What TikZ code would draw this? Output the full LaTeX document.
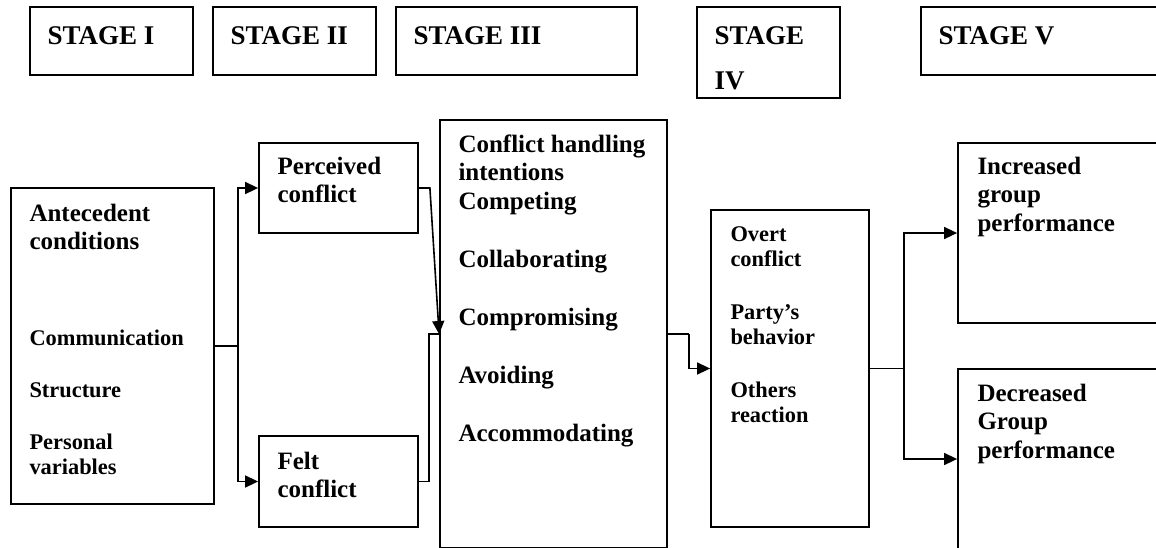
\documentclass[tikz,border=0pt]{standalone}
\usepackage{fontspec}
\setmainfont{Liberation Serif}
\usetikzlibrary{arrows.meta,fit,calc}
\newcommand{\rows}[1]{\begin{tabular}[t]{@{}l@{}}#1\end{tabular}}

\begin{document}
\begin{tikzpicture}[x=0.5pt, y=-0.5pt,
  box/.style={draw, line width=0.9pt, inner sep=0pt},
  txt/.style={anchor=base west, inner sep=0pt, font=\fontsize{12.5}{14.25}\selectfont\bfseries},
  sml/.style={txt, font=\fontsize{11.2}{12.5}\selectfont\bfseries},
  hd/.style={txt, font=\fontsize{13.5}{22.5}\selectfont\bfseries},
  link/.style={line width=0.8pt},
  arr/.style={link, -{Triangle[length=6.5pt,width=6pt]}}]
\useasboundingbox (0,0) rectangle (1156,547);
\clip (0,0) rectangle (1156,547);
\node [box, fit={(30,7) (193,75)}] (st1) {};
\node [box, fit={(213,7) (376,75)}] (st2) {};
\node [box, fit={(396,7) (637,75)}] (st3) {};
\node [box, fit={(697,7) (840,98)}] (st4) {};
\node [box, fit={(921,7) (1170,75)}] (st5) {};
\foreach \s/\lab in {st1/STAGE I, st2/STAGE II, st3/STAGE III, st4/{\rows{STAGE\\IV}}, st5/STAGE V}
	\node [hd] (\s-t) at ($(\s.north west)+(18,38)$) {\lab};
\node [box, fit={(11,188) (214,504)}] (ante) {};
\node [box, fit={(259,143) (418,233)}] (perc) {};
\node [box, fit={(259,436) (418,527)}] (felt) {};
\node [box, fit={(440,120) (667,548)}] (intent) {};
\node [box, fit={(711,210) (869,527)}] (behav) {};
\node [box, fit={(958,143) (1170,323)}] (incr) {};
\node [box, fit={(958,369) (1170,549)}] (decr) {};
\node [txt] (ante-t) at ($(ante.north west)+(19,34)$) {\rows{Antecedent\\conditions}};
\foreach \lab [count=\i] in {Communication, Structure, {\rows{Personal\\variables}}}
	\node [sml] (ante-\i) at ($(ante.north west)+(19,106+52*\i)$) {\lab};
\node [txt] (perc-t) at ($(perc.north west)+(19,32)$) {\rows{Perceived\\conflict}};
\node [txt] (felt-t) at ($(felt.north west)+(19,34)$) {\rows{Felt\\conflict}};
\node [txt] (intent-t) at ($(intent.north west)+(19,33)$) {\rows{Conflict handling\\intentions}};
\foreach \lab [count=\i] in {Competing, Collaborating, Compromising, Avoiding, Accommodating}
	\node [txt] (intent-\i) at ($(intent.north west)+(19,32+58*\i)$) {\lab};
\foreach \lab [count=\i] in {{\rows{Overt\\conflict}}, {\rows{Party's\\behavior}}, {\rows{Others\\reaction}}}
	\node [sml] (behav-\i) at ($(behav.north west)+(20,-46+78*\i)$) {\lab};
\node [txt] (incr-t) at ($(incr.north west)+(20,32)$) {\rows{Increased\\group\\performance}};
\node [txt] (decr-t) at ($(decr.north west)+(20,33)$) {\rows{Decreased\\Group\\performance}};
\draw [link] (ante.east) -- ++(23,0) coordinate (fork1);
\draw [arr] (fork1) |- (perc);
\draw [arr] (fork1) |- (felt);
\draw [arr] (perc.east) -- ++(11,0) -- (intent.west);
\draw [link] (felt.east) -- ++(10,0) |- (intent.west);
\draw [link] (intent.east) -- ++(21,0) coordinate (fork2);
\draw [arr] (fork2) |- (behav);
\draw [link] (behav.east) -- ++(34,0) coordinate (fork3);
\draw [arr] (fork3) |- (incr);
\draw [arr] (fork3) |- (decr);
\end{tikzpicture}
\end{document}
